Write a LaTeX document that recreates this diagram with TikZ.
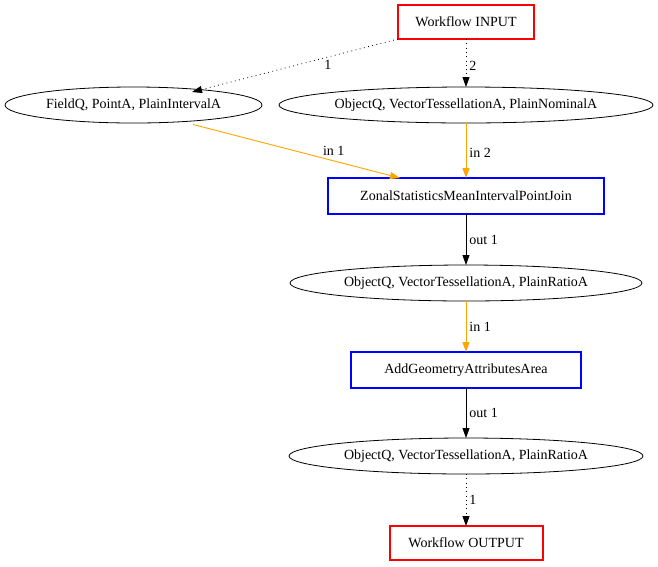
\documentclass[tikz,border=0pt]{standalone}
\usepackage{fontspec}
\setmainfont{Liberation Serif}
\usetikzlibrary{shapes.geometric,arrows.meta,calc}
\definecolor{gvorange}{RGB}{255,165,0}
\begin{document}
\begin{tikzpicture}[x=1pt,y=-1pt,
  every node/.style={font=\fontsize{14}{16}\selectfont},
  wfbox/.style={draw=red, line width=2pt, minimum width=136pt, minimum height=34pt, inner sep=0pt, outer sep=0pt},
  toolbox/.style={draw=blue, line width=2pt, minimum height=36pt, inner sep=0pt, outer sep=0pt},
  dataell/.style={draw, ellipse, line width=0.8pt, minimum height=36pt, inner sep=0pt, outer sep=0pt},
  tip/.style={-{Triangle[length=10pt,width=7pt]}},
  dotline/.style={tip, line width=0.8pt, dash pattern=on 0.8pt off 3.5pt},
  inline/.style={tip, draw=gvorange, line width=0.9pt, -{Triangle[length=10pt,width=7pt,fill=gvorange]}},
  outline/.style={tip, line width=0.9pt},
  elab/.style={inner sep=3pt}
]
\useasboundingbox (0,0) rectangle (658,566);
\node[wfbox] (in) at (466,22) {Workflow INPUT};
\node[dataell, minimum width=257pt] (fieldq) at (133.5,105) {FieldQ, PointA, PlainIntervalA};
\node[dataell, minimum width=374pt] (nominal) at (466,105) {ObjectQ, VectorTessellationA, PlainNominalA};
\node[toolbox, minimum width=276pt] (zonal) at (466,196) {ZonalStatisticsMeanIntervalPointJoin};
\node[dataell, minimum width=352pt] (ratio1) at (466,283) {ObjectQ, VectorTessellationA, PlainRatioA};
\node[toolbox, minimum width=230pt] (addgeom) at (466,370) {AddGeometryAttributesArea};
\node[dataell, minimum width=354pt] (ratio2) at (466,456) {ObjectQ, VectorTessellationA, PlainRatioA};
\node[wfbox, minimum width=153pt] (out) at (466,543) {Workflow OUTPUT};

\draw[dotline] (in.south west) -- node[pos=0.34, anchor=north, elab]{1} ($(fieldq.center)+(58.5,-13)$);
\draw[dotline] (in.south) -- node[pos=0.55, anchor=west, elab]{2} (nominal.north);
\draw[inline] ($(fieldq.center)+(59.5,19.5)$) -- node[pos=0.68, anchor=south, elab, yshift=2pt]{in 1} ($(zonal.north)+(-66,0)$);
\draw[inline] (nominal.south) -- node[pos=0.55, anchor=west, elab]{in 2} (zonal.north);
\draw[outline] (zonal.south) -- node[pos=0.5, anchor=west, elab]{out 1} (ratio1.north);
\draw[inline] (ratio1.south) -- node[pos=0.5, anchor=west, elab]{in 1} (addgeom.north);
\draw[outline] (addgeom.south) -- node[pos=0.5, anchor=west, elab]{out 1} (ratio2.north);
\draw[dotline] (ratio2.south) -- node[pos=0.5, anchor=west, elab]{1} (out.north);
\end{tikzpicture}
\end{document}
